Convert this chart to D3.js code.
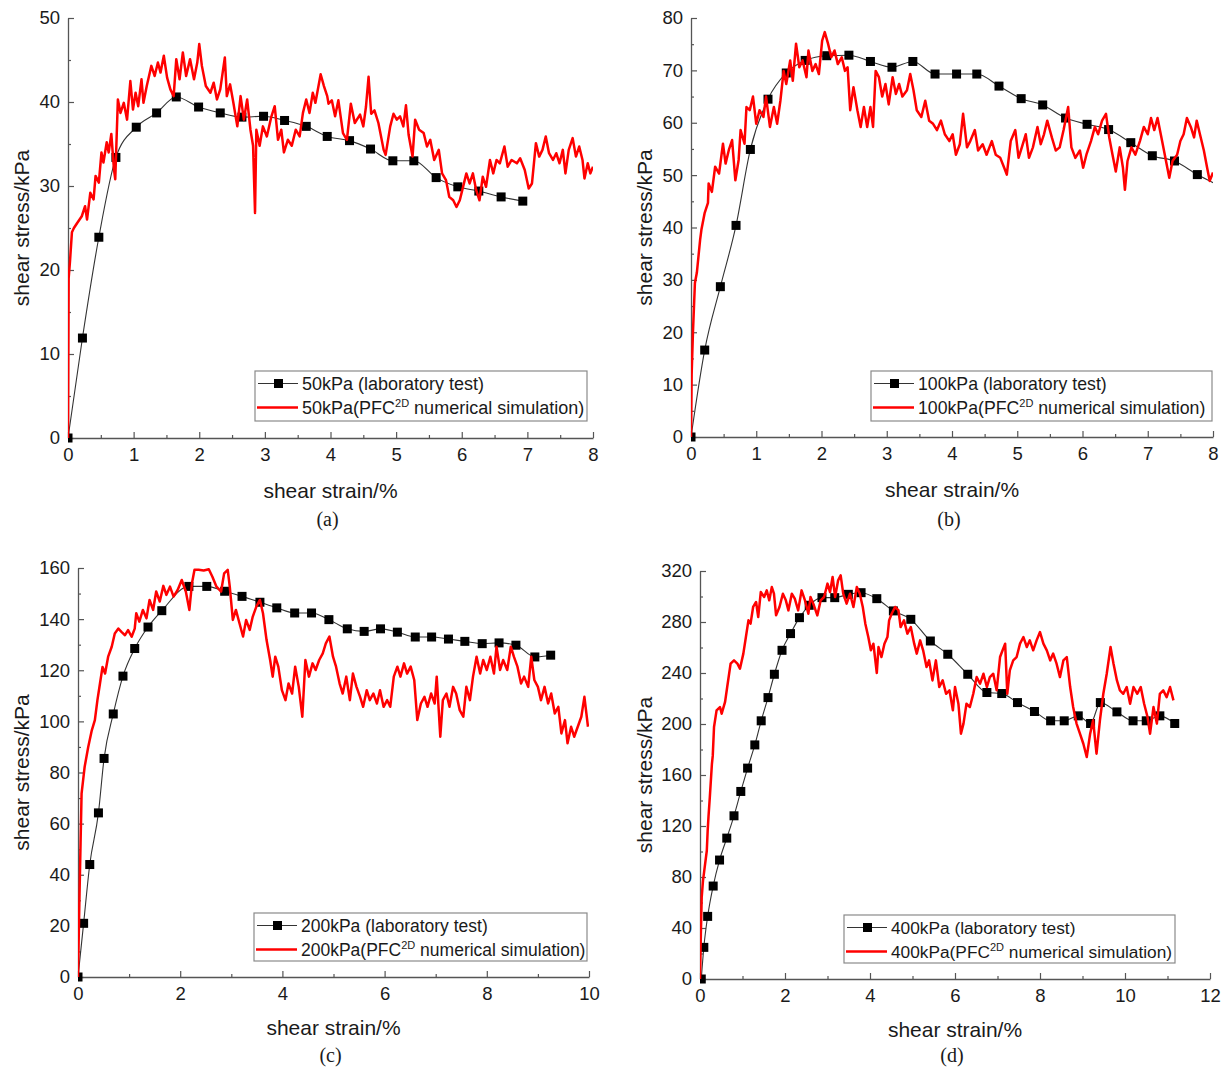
<!DOCTYPE html>
<html>
<head>
<meta charset="utf-8">
<script src="https://cdn.jsdelivr.net/npm/d3@7"></script>
<style>
  body { margin: 0; background: #fff; }
  svg { display: block; font-family: "Liberation Sans", Arial, sans-serif; }
</style>
</head>
<body>
<svg id="chart" width="1226" height="1068"></svg>
<script>
// ---- data: [shear strain %, shear stress kPa] ----

const labA = [[0,0],[0.22,11.9],[0.47,23.9],[0.73,33.4],[1.04,37.0],[1.35,38.7],[1.65,40.6],[1.99,39.4],[2.32,38.7],[2.65,38.2],[2.98,38.3],[3.30,37.8],[3.63,37.1],[3.95,35.9],[4.29,35.4],[4.61,34.4],[4.95,33.0],[5.27,33.0],[5.61,31.0],[5.94,29.9],[6.26,29.4],[6.60,28.7],[6.93,28.2]];

const simA = [[0,0],[0.005,10],[0.01,19],[0.03,21],[0.06,24.5],[0.09,25],[0.14,25.6],[0.21,26.4],[0.26,27.6],[0.29,26],[0.34,29.2],[0.39,28.4],[0.42,31.2],[0.47,30.4],[0.51,34],[0.54,32.8],[0.59,35.2],[0.62,34],[0.66,36.2],[0.70,32],[0.72,30.8],[0.76,40.3],[0.80,38.7],[0.85,39.9],[0.90,37.9],[0.95,42.5],[0.99,39.1],[1.03,41.1],[1.07,39.5],[1.12,42.7],[1.15,39.9],[1.20,41.9],[1.27,44.3],[1.32,43.1],[1.37,44.7],[1.41,43.5],[1.46,45.5],[1.51,42.9],[1.56,41.5],[1.61,40.7],[1.65,45.1],[1.70,42.7],[1.75,45.9],[1.80,43.1],[1.86,45.1],[1.92,42.7],[1.97,44.7],[2.00,46.9],[2.04,44.3],[2.10,41.9],[2.17,41.1],[2.22,42.3],[2.27,40.3],[2.32,41.5],[2.39,45.3],[2.42,40.7],[2.47,42.1],[2.52,39.9],[2.58,37.1],[2.63,40.7],[2.68,37.9],[2.73,40.3],[2.78,36.7],[2.82,34.8],[2.85,26.8],[2.87,36.7],[2.92,34.8],[2.97,37.1],[3.03,35.9],[3.10,38.3],[3.15,39.5],[3.20,35.5],[3.25,36.7],[3.29,34.0],[3.35,35.5],[3.41,34.8],[3.47,36.7],[3.53,35.9],[3.58,38.7],[3.63,40.3],[3.68,38.7],[3.73,41.1],[3.77,39.9],[3.85,43.3],[3.90,41.9],[3.95,40.7],[3.97,39.8],[4.02,40.2],[4.07,38.3],[4.12,40.2],[4.19,36.3],[4.25,35.5],[4.31,39.8],[4.37,37.5],[4.45,38.5],[4.50,37.1],[4.54,39.4],[4.58,43.0],[4.62,38.6],[4.67,39.0],[4.73,37.5],[4.81,34.3],[4.84,33.7],[4.91,37.1],[4.96,38.6],[5.01,37.9],[5.06,38.3],[5.11,37.1],[5.15,39.6],[5.19,36.1],[5.25,33.5],[5.29,37.9],[5.35,36.7],[5.42,36.3],[5.47,34.7],[5.52,35.5],[5.58,33.1],[5.65,34.3],[5.70,31.5],[5.76,30.7],[5.81,28.7],[5.87,28.3],[5.92,27.5],[5.97,28.3],[6.02,29.9],[6.07,31.5],[6.12,30.3],[6.17,31.5],[6.22,29.5],[6.27,28.3],[6.32,31.1],[6.37,29.9],[6.43,33.1],[6.48,31.5],[6.53,33.1],[6.58,32.7],[6.65,34.7],[6.70,32.3],[6.76,33.1],[6.84,32.7],[6.89,33.3],[6.96,31.9],[7.02,29.7],[7.07,30.3],[7.13,35.1],[7.18,33.5],[7.23,34.3],[7.28,35.9],[7.33,33.9],[7.39,33.1],[7.44,33.9],[7.49,32.7],[7.54,34.3],[7.58,31.5],[7.63,34.3],[7.69,35.7],[7.74,33.5],[7.79,34.7],[7.84,33.1],[7.87,30.9],[7.92,32.7],[7.96,31.5],[8.0,32.3]];

const labB = [[0,0],[0.21,16.6],[0.45,28.7],[0.69,40.4],[0.91,54.9],[1.18,64.5],[1.46,69.5],[1.75,71.9],[2.08,72.8],[2.42,72.9],[2.75,71.7],[3.08,70.6],[3.40,71.7],[3.74,69.3],[4.07,69.3],[4.38,69.3],[4.72,67.0],[5.06,64.6],[5.39,63.4],[5.74,60.9],[6.07,59.7],[6.40,58.7],[6.74,56.2],[7.07,53.7],[7.41,52.7],[7.76,50.1],[8.09,48.0]];

const simB = [[0,0],[0.01,12],[0.03,20],[0.06,29.4],[0.09,31.4],[0.14,37.7],[0.16,39.6],[0.21,42.8],[0.26,44.7],[0.27,48.4],[0.32,46.8],[0.37,51.6],[0.43,50.3],[0.49,56.0],[0.53,52.2],[0.58,54.8],[0.63,56.7],[0.68,49.0],[0.73,52.9],[0.76,58.6],[0.82,56.0],[0.85,63.0],[0.90,62.4],[0.95,65.0],[1.00,59.8],[1.05,62.4],[1.11,61.1],[1.15,65.0],[1.21,59.2],[1.27,63.0],[1.32,59.8],[1.37,64.2],[1.42,69.9],[1.46,67.4],[1.52,71.9],[1.56,68.0],[1.61,75.1],[1.66,70.6],[1.71,71.9],[1.77,68.7],[1.80,73.8],[1.86,69.9],[1.91,71.2],[1.96,69.3],[2.01,75.7],[2.05,77.3],[2.10,75.1],[2.15,72.5],[2.20,73.8],[2.25,71.2],[2.31,72.5],[2.36,69.9],[2.40,70.6],[2.44,62.4],[2.49,66.8],[2.55,62.4],[2.60,59.2],[2.65,63.0],[2.70,59.2],[2.75,63.0],[2.79,59.2],[2.83,69.9],[2.88,68.7],[2.93,65.0],[2.98,67.4],[3.03,63.5],[3.09,68.7],[3.14,65.5],[3.19,67.4],[3.24,65.0],[3.31,66.2],[3.36,69.3],[3.41,66.2],[3.46,62.4],[3.53,61.1],[3.59,64.2],[3.65,60.4],[3.71,59.8],[3.77,58.6],[3.83,60.4],[3.89,57.8],[3.96,56.5],[4.01,57.8],[4.06,53.9],[4.12,55.9],[4.17,61.7],[4.23,55.3],[4.28,56.5],[4.35,58.6],[4.40,54.7],[4.47,55.9],[4.53,53.9],[4.61,56.5],[4.67,53.9],[4.74,53.3],[4.80,51.4],[4.84,50.1],[4.90,56.5],[4.97,58.6],[5.02,53.3],[5.07,55.3],[5.13,57.8],[5.18,53.3],[5.24,55.3],[5.31,59.2],[5.36,55.9],[5.41,57.8],[5.46,60.4],[5.53,57.2],[5.59,54.7],[5.65,55.3],[5.71,58.6],[5.78,63.0],[5.83,55.3],[5.89,53.3],[5.96,54.7],[6.01,51.4],[6.06,53.9],[6.13,56.5],[6.19,59.2],[6.24,57.8],[6.30,60.4],[6.36,61.7],[6.41,57.2],[6.46,53.9],[6.51,50.7],[6.57,55.3],[6.62,51.4],[6.65,47.2],[6.69,52.7],[6.75,55.3],[6.81,53.9],[6.88,56.5],[6.94,59.2],[7.00,57.8],[7.05,60.9],[7.10,58.6],[7.15,60.9],[7.22,56.5],[7.27,53.3],[7.33,49.5],[7.38,52.7],[7.45,53.9],[7.50,56.5],[7.55,57.8],[7.60,60.9],[7.66,59.2],[7.71,57.2],[7.75,60.4],[7.80,57.8],[7.86,54.7],[7.91,51.4],[7.95,48.9],[8.0,50.5]];

const labC = [[0,0],[0.11,21.0],[0.23,44.0],[0.40,64.2],[0.51,85.5],[0.69,102.9],[0.88,117.7],[1.11,128.5],[1.37,136.9],[1.64,143.3],[2.17,152.8],[2.52,152.8],[2.87,150.9],[3.21,148.9],[3.56,146.6],[3.89,144.4],[4.24,142.4],[4.57,142.4],[4.91,139.8],[5.27,136.2],[5.60,135.2],[5.92,136.2],[6.25,134.9],[6.60,133.0],[6.92,133.0],[7.25,132.2],[7.57,131.3],[7.91,130.4],[8.24,130.7],[8.57,129.8],[8.94,125.2],[9.25,125.9]];

const simC = [[0,0],[0.03,32.6],[0.05,52.2],[0.07,71.7],[0.13,82.2],[0.20,90.0],[0.27,96.5],[0.33,100.5],[0.38,108.3],[0.43,114.8],[0.48,121.3],[0.53,118.7],[0.59,125.3],[0.66,129.2],[0.72,134.4],[0.79,136.3],[0.85,135.0],[0.92,133.7],[0.98,135.7],[1.05,133.1],[1.11,136.3],[1.14,142.3],[1.20,139.0],[1.27,143.6],[1.34,140.3],[1.40,147.5],[1.47,143.6],[1.53,150.8],[1.60,146.9],[1.67,153.0],[1.73,149.5],[1.80,152.7],[1.87,148.8],[1.95,151.4],[2.03,155.3],[2.11,150.8],[2.18,143.6],[2.23,154.0],[2.28,159.3],[2.36,159.3],[2.46,159.0],[2.56,159.5],[2.63,156.6],[2.71,152.7],[2.80,150.8],[2.86,157.9],[2.93,159.3],[2.97,152.7],[3.03,139.7],[3.09,143.6],[3.16,138.4],[3.23,133.2],[3.29,139.7],[3.36,135.8],[3.42,141.0],[3.49,144.9],[3.56,147.5],[3.62,142.3],[3.69,131.8],[3.76,124.0],[3.81,117.5],[3.86,125.3],[3.92,121.4],[3.99,112.2],[4.06,108.3],[4.12,114.8],[4.19,110.9],[4.25,121.4],[4.32,113.5],[4.39,101.8],[4.45,124.0],[4.52,117.5],[4.59,122.7],[4.65,120.1],[4.72,124.0],[4.79,126.6],[4.85,130.5],[4.92,133.2],[4.99,125.3],[5.05,121.4],[5.12,114.8],[5.18,110.9],[5.25,117.5],[5.32,108.3],[5.38,118.7],[5.45,113.5],[5.52,109.6],[5.58,105.7],[5.65,112.2],[5.71,108.3],[5.78,110.9],[5.85,107.0],[5.91,112.2],[5.98,105.7],[6.05,108.3],[6.11,105.7],[6.18,117.5],[6.25,121.4],[6.31,117.5],[6.38,122.7],[6.44,118.7],[6.51,121.4],[6.58,116.2],[6.64,100.5],[6.71,107.0],[6.78,109.6],[6.84,105.7],[6.91,110.9],[6.98,107.0],[7.02,117.5],[7.09,94.0],[7.14,108.3],[7.21,110.9],[7.27,105.7],[7.34,113.5],[7.40,110.9],[7.47,104.4],[7.54,101.8],[7.60,113.5],[7.67,108.3],[7.73,117.5],[7.80,125.3],[7.87,118.7],[7.93,124.0],[8.00,120.1],[8.07,125.3],[8.14,118.7],[8.19,129.2],[8.26,120.1],[8.32,124.0],[8.40,120.1],[8.47,129.2],[8.53,125.3],[8.60,121.4],[8.67,114.8],[8.73,117.5],[8.81,113.5],[8.87,125.3],[8.93,116.2],[9.00,113.5],[9.06,108.3],[9.13,113.5],[9.20,107.0],[9.26,110.9],[9.33,103.1],[9.40,105.7],[9.46,95.3],[9.53,100.5],[9.58,91.4],[9.65,97.9],[9.71,94.0],[9.78,97.9],[9.85,101.8],[9.91,109.6],[9.98,97.9]];

const labD = [[0.03,0],[0.09,24.8],[0.18,49.1],[0.31,72.9],[0.46,93.3],[0.63,110.5],[0.80,128.0],[0.96,147.1],[1.12,165.4],[1.29,183.6],[1.44,202.5],[1.60,220.7],[1.75,239.0],[1.93,257.8],[2.13,270.9],[2.34,283.4],[2.57,293.1],[2.87,299.1],[3.17,299.1],[3.49,301.7],[3.79,303.0],[4.16,298.3],[4.55,288.7],[4.96,282.1],[5.42,265.1],[5.83,254.7],[6.30,239.0],[6.75,224.7],[7.10,223.9],[7.47,216.8],[7.87,209.8],[8.25,202.5],[8.57,202.5],[8.90,206.4],[9.19,200.4],[9.42,216.8],[9.81,209.5],[10.19,202.5],[10.50,202.5],[10.82,206.4],[11.17,200.4]];

const simD = [[0,0],[0.02,35],[0.04,64],[0.07,77],[0.11,87.5],[0.16,100.6],[0.18,116],[0.20,127.3],[0.23,142],[0.28,168.5],[0.30,175],[0.33,197.6],[0.39,210.7],[0.47,213.3],[0.51,208.1],[0.59,217.3],[0.64,229.0],[0.72,247.3],[0.80,249.9],[0.88,247.3],[0.94,243.4],[1.02,255.2],[1.08,268.2],[1.14,281.3],[1.19,278.7],[1.25,291.8],[1.32,295.7],[1.37,283.9],[1.43,303.5],[1.51,299.6],[1.57,304.8],[1.63,297.0],[1.69,307.4],[1.74,302.2],[1.79,285.2],[1.87,291.8],[1.95,302.2],[2.02,297.0],[2.08,289.1],[2.16,302.2],[2.23,298.3],[2.31,289.1],[2.39,304.8],[2.47,297.0],[2.55,286.5],[2.60,299.6],[2.68,293.1],[2.76,285.2],[2.84,297.0],[2.92,299.6],[3.00,310.1],[3.06,303.5],[3.12,315.3],[3.18,299.6],[3.25,312.7],[3.31,316.6],[3.37,302.2],[3.45,294.4],[3.53,302.2],[3.61,291.8],[3.69,307.4],[3.76,302.2],[3.83,291.8],[3.89,278.7],[3.96,268.2],[4.02,257.8],[4.08,263.0],[4.16,240.0],[4.20,260.4],[4.27,252.5],[4.34,263.0],[4.41,268.2],[4.45,281.3],[4.51,286.5],[4.59,291.8],[4.67,289.1],[4.72,276.0],[4.80,281.3],[4.88,270.9],[4.96,276.0],[5.04,263.0],[5.10,255.2],[5.18,265.6],[5.25,257.8],[5.33,244.7],[5.39,249.9],[5.47,234.2],[5.55,249.9],[5.63,229.0],[5.71,234.2],[5.79,223.7],[5.87,226.4],[5.95,210.7],[6.00,229.0],[6.08,215.9],[6.14,192.4],[6.20,200.3],[6.27,215.9],[6.35,213.3],[6.43,223.7],[6.51,236.8],[6.59,231.6],[6.67,239.4],[6.75,229.0],[6.82,236.8],[6.90,239.4],[6.98,226.4],[7.06,252.5],[7.12,257.8],[7.18,263.0],[7.23,223.7],[7.29,242.1],[7.37,249.9],[7.45,252.5],[7.53,263.0],[7.61,268.2],[7.69,260.4],[7.76,265.6],[7.84,257.8],[7.92,265.6],[8.00,272.1],[8.08,263.0],[8.16,257.8],[8.24,249.9],[8.31,255.2],[8.39,247.3],[8.47,236.8],[8.55,249.9],[8.63,252.5],[8.71,229.0],[8.78,213.3],[8.86,200.3],[8.94,192.4],[9.02,184.5],[9.10,174.1],[9.18,192.4],[9.25,202.9],[9.33,176.7],[9.41,202.9],[9.49,223.7],[9.57,239.4],[9.66,260.4],[9.73,247.3],[9.81,234.2],[9.88,226.4],[9.96,223.7],[10.04,229.0],[10.12,215.9],[10.20,229.0],[10.29,223.7],[10.37,229.0],[10.45,215.9],[10.53,205.5],[10.59,192.4],[10.67,213.3],[10.75,200.3],[10.82,223.7],[10.90,226.4],[10.98,221.1],[11.06,229.0],[11.14,218.5]];

// tick labels
const xTicksA = [0,1,2,3,4,5,6,7,8];
const yTicksA = [0,10,20,30,40,50];
const xTicksB = [0,1,2,3,4,5,6,7,8];
const yTicksB = [0,10,20,30,40,50,60,70,80];
const xTicksC = [0,2,4,6,8,10];
const yTicksC = [0,20,40,60,80,100,120,140,160];
const xTicksD = [0,2,4,6,8,10,12];
const yTicksD = [0,40,80,120,160,200,240,280,320];

const pressures = ["50kPa", "100kPa", "200kPa", "400kPa"];
const captions = ["(a)", "(b)", "(c)", "(d)"];

// ---- layout ----
const panels = [
  { lab: labA, sim: simA, xTicks: xTicksA, yTicks: yTicksA,
    left: 68, right: 593, top: 18, bottom: 438, ylabX: 22, titleY: 498, capY: 526,
    legend: { x: 255, y: 371, w: 332, h: 50, font: 18 } },
  { lab: labB, sim: simB, xTicks: xTicksB, yTicks: yTicksB,
    left: 691, right: 1213, top: 18, bottom: 437, ylabX: 645, titleY: 497, capY: 526,
    legend: { x: 871, y: 371, w: 341, h: 50, font: 17.7 } },
  { lab: labC, sim: simC, xTicks: xTicksC, yTicks: yTicksC,
    left: 78, right: 589, top: 568, bottom: 977, ylabX: 22, titleY: 1035, capY: 1062,
    legend: { x: 254, y: 913, w: 333, h: 48, font: 17.5 } },
  { lab: labD, sim: simD, xTicks: xTicksD, yTicks: yTicksD,
    left: 700, right: 1210, top: 571, bottom: 979, ylabX: 645, titleY: 1037, capY: 1062,
    legend: { x: 844, y: 915, w: 331, h: 48, font: 17.3 } }
];

const svg = d3.select("#chart");
const axisColor = "#555";

const styleAxis = (sel) => {
  sel.selectAll(".domain").attr("stroke", axisColor).attr("stroke-width", 1.3);
  sel.selectAll(".tick line").attr("stroke", axisColor).attr("stroke-width", 1.2);
  sel.selectAll(".tick text").attr("fill", "#1a1a1a").style("font-size", "18.5px")
    .style("font-family", '"Liberation Sans", Arial, sans-serif');
};

const midpoints = (ticks) => d3.pairs(ticks).map(([a, b]) => (a + b) / 2);

panels.forEach((p, i) => {
  const xMax = d3.max(p.xTicks), yMax = d3.max(p.yTicks);
  const x = d3.scaleLinear().domain([0, xMax]).range([p.left, p.right]);
  const y = d3.scaleLinear().domain([0, yMax]).range([p.bottom, p.top]);

  const g = svg.append("g").attr("class", "panel");

  const clipId = "clip" + i;
  g.append("clipPath").attr("id", clipId)
    .append("rect")
    .attr("x", p.left).attr("y", p.top - 6)
    .attr("width", p.right - p.left).attr("height", p.bottom - p.top + 12);

  /////////////////////////////////////////////////////////
  // AXES

  const xMinor = g.append("g").attr("transform", `translate(0,${p.bottom})`)
    .call(d3.axisBottom(x).tickValues(midpoints(p.xTicks)).tickFormat("").tickSizeInner(-3).tickSizeOuter(0));
  xMinor.select(".domain").remove();
  styleAxis(xMinor);

  const yMinor = g.append("g").attr("transform", `translate(${p.left},0)`)
    .call(d3.axisLeft(y).tickValues(midpoints(p.yTicks)).tickFormat("").tickSizeInner(-3).tickSizeOuter(0));
  yMinor.select(".domain").remove();
  styleAxis(yMinor);

  const xAxis = g.append("g").attr("transform", `translate(0,${p.bottom})`)
    .call(d3.axisBottom(x).tickValues(p.xTicks).tickFormat(d3.format("d"))
      .tickSizeInner(-6).tickSizeOuter(0).tickPadding(10));
  styleAxis(xAxis);

  const yAxis = g.append("g").attr("transform", `translate(${p.left},0)`)
    .call(d3.axisLeft(y).tickValues(p.yTicks).tickFormat(d3.format("d"))
      .tickSizeInner(-6).tickSizeOuter(0).tickPadding(8));
  styleAxis(yAxis);

  /////////////////////////////////////////////////////////
  // SERIES

  const labLine = d3.line().x(d => x(d[0])).y(d => y(d[1])).curve(d3.curveMonotoneX);
  const simLine = d3.line().x(d => x(d[0])).y(d => y(d[1]));

  const plot = g.append("g").attr("clip-path", `url(#${clipId})`);

  plot.append("path")
    .datum(p.lab)
    .attr("d", labLine)
    .attr("fill", "none")
    .attr("stroke", "#333")
    .attr("stroke-width", 1.1);

  plot.selectAll("rect.marker")
    .data(p.lab)
    .enter().append("rect")
    .attr("class", "marker")
    .attr("x", d => x(d[0]) - 4.5)
    .attr("y", d => y(d[1]) - 4.5)
    .attr("width", 9)
    .attr("height", 9)
    .attr("fill", "#000");

  plot.append("path")
    .datum(p.sim)
    .attr("d", simLine)
    .attr("fill", "none")
    .attr("stroke", "#ff0000")
    .attr("stroke-width", 2.5)
    .attr("stroke-linejoin", "round");

  /////////////////////////////////////////////////////////
  // TITLES

  const cx = (p.left + p.right) / 2;
  g.append("text")
    .attr("x", cx).attr("y", p.titleY)
    .attr("text-anchor", "middle")
    .style("font-size", "21px").attr("fill", "#1a1a1a")
    .text("shear strain/%");

  g.append("text")
    .attr("transform", `translate(${p.ylabX + 7},${(p.top + p.bottom) / 2}) rotate(-90)`)
    .attr("text-anchor", "middle")
    .style("font-size", "21px").attr("fill", "#1a1a1a")
    .text("shear stress/kPa");

  g.append("text")
    .attr("x", cx - 3).attr("y", p.capY)
    .attr("text-anchor", "middle")
    .style("font-family", '"Liberation Serif", "Times New Roman", serif')
    .style("font-size", "20px").attr("fill", "#1a1a1a")
    .text(captions[i]);

  /////////////////////////////////////////////////////////
  // LEGEND

  const L = p.legend;
  const lg = g.append("g").attr("transform", `translate(${L.x},${L.y})`);
  lg.append("rect")
    .attr("width", L.w).attr("height", L.h)
    .attr("fill", "#fff").attr("stroke", "#8a8a8a").attr("stroke-width", 1.2);

  const r1 = 12.5, r2 = 36.5;
  lg.append("line").attr("x1", 3).attr("x2", 43).attr("y1", r1).attr("y2", r1)
    .attr("stroke", "#333").attr("stroke-width", 1.1);
  lg.append("rect").attr("x", 19).attr("y", r1 - 4.5).attr("width", 9).attr("height", 9).attr("fill", "#000");
  lg.append("line").attr("x1", 2).attr("x2", 43).attr("y1", r2).attr("y2", r2)
    .attr("stroke", "#ff0000").attr("stroke-width", 2.6);

  lg.append("text").attr("x", 47).attr("y", r1 + 6.5)
    .style("font-size", L.font + "px").attr("fill", "#1a1a1a")
    .text(`${pressures[i]} (laboratory test)`);

  const t2 = lg.append("text").attr("x", 47).attr("y", r2 + 6.5)
    .style("font-size", L.font + "px").attr("fill", "#1a1a1a");
  t2.append("tspan").text(`${pressures[i]}(PFC`);
  t2.append("tspan").attr("dy", -7).style("font-size", "11px").text("2D");
  t2.append("tspan").attr("dy", 7).text(" numerical simulation)");
});
</script>
</body>
</html>
